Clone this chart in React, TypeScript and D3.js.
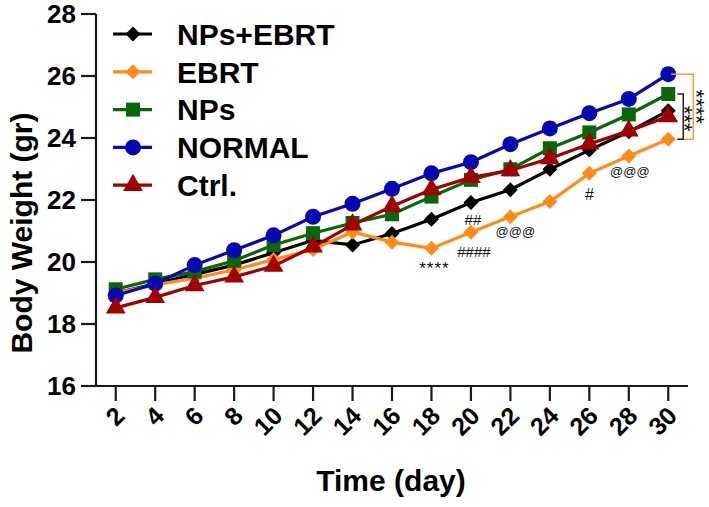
import React from "react";
import * as d3 from "d3";

const days = [2, 4, 6, 8, 10, 12, 14, 16, 18, 20, 22, 24, 26, 28, 30];
const npsEbrt = [19.0, 19.3, 19.6, 19.9, 20.3, 20.7, 20.55, 20.92, 21.38, 21.92, 22.33, 22.99, 23.61, 24.2, 24.88];
const ebrt = [19.0, 19.26, 19.48, 19.74, 20.08, 20.4, 20.97, 20.64, 20.44, 20.96, 21.46, 21.95, 22.86, 23.42, 23.96];
const nps = [19.12, 19.44, 19.69, 20.04, 20.55, 20.93, 21.26, 21.54, 22.11, 22.65, 22.99, 23.67, 24.18, 24.76, 25.42];
const normal = [18.92, 19.3, 19.9, 20.38, 20.86, 21.46, 21.88, 22.36, 22.86, 23.22, 23.8, 24.31, 24.8, 25.26, 26.06];
const ctrl = [18.52, 18.86, 19.24, 19.52, 19.87, 20.49, 21.2, 21.8, 22.34, 22.73, 22.95, 23.34, 23.81, 24.23, 24.69];
const yTicks = [16, 18, 20, 22, 24, 26, 28];

const seriesNames = ["NPs+EBRT", "EBRT", "NPs", "NORMAL", "Ctrl."];
const seriesValues = [npsEbrt, ebrt, nps, normal, ctrl];
const seriesColors = ["#000000", "#ff8c1a", "#0a660a", "#0808b0", "#a00000"];
const seriesShapes = ["diamond", "diamond", "square", "circle", "triangle"];

// annotations: [day, value, text]
const annoDays = [18, 20, 20, 22, 26, 28];
const annoValues = [20.44, 20.96, 21.92, 21.46, 22.86, 23.42];
const annoTexts = ["****", "####", "##", "@@@", "#", "@@@"];

const FONT = "'Liberation Sans', Arial, Helvetica, sans-serif";

function Marker({ shape, x, y, color }: { shape: string; x: number; y: number; color: string }) {
  if (shape === "circle") return <circle cx={x} cy={y} r={8} fill={color} />;
  if (shape === "square") return <rect x={x - 7} y={y - 7} width={14} height={14} fill={color} />;
  if (shape === "triangle") {
    const p = d3.symbol(d3.symbolTriangle, 170)();
    return <path d={p as string} transform={`translate(${x},${y})`} fill={color} />;
  }
  const s = 7.5;
  return <path d={`M${x},${y - s}L${x + s},${y}L${x},${y + s}L${x - s},${y}Z`} fill={color} />;
}

export default function App() {
  const W = 709, H = 507;
  const x = d3.scaleLinear().domain([1, 31]).range([96, 688]);
  const y = d3.scaleLinear().domain([16, 28]).range([386, 14]);
  const line = d3.line<number>().x((_, i) => x(days[i])).y((v) => y(v));
  const axisColor = "#1a1a1a";

  const last = days.length - 1;
  const xe = x(days[last]);

  return (
    <svg width={W} height={H} style={{ position: "absolute", left: 0, top: 0, background: "#fff" }} fontFamily={FONT}>
      {/* axes */}
      <line x1={96} x2={96} y1={y(28)} y2={y(16) + 1} stroke={axisColor} strokeWidth={2.2} />
      <line x1={95} x2={688} y1={y(16)} y2={y(16)} stroke={axisColor} strokeWidth={2.2} />
      {yTicks.map((t) => (
        <g key={"y" + t}>
          <line x1={81} x2={96} y1={y(t)} y2={y(t)} stroke={axisColor} strokeWidth={2.2} />
          <text x={76} y={y(t)} dy="0.36em" textAnchor="end" fontSize={26} fontWeight="bold" fill="#000">
            {t}
          </text>
        </g>
      ))}
      {days.map((d) => (
        <g key={"x" + d}>
          <line x1={x(d)} x2={x(d)} y1={y(16)} y2={y(16) + 15} stroke={axisColor} strokeWidth={2.2} />
          <text
            transform={`translate(${x(d) + 4},${y(16) + 25}) rotate(-45)`}
            dy="0.36em"
            textAnchor="end"
            fontSize={25}
            fontWeight="bold"
            fill="#000"
          >
            {d}
          </text>
        </g>
      ))}
      <text
        transform={`translate(32,${(y(16) + y(28)) / 2 + 33}) rotate(-90)`}
        textAnchor="middle"
        fontSize={30}
        fontWeight="bold"
        fill="#000"
      >
        Body Weight (gr)
      </text>
      <text x={391} y={491} textAnchor="middle" fontSize={30} fontWeight="bold" fill="#000">
        Time (day)
      </text>

      {/* series */}
      {seriesValues.map((vals, si) => (
        <g key={"s" + si}>
          <path d={line(vals) as string} fill="none" stroke={seriesColors[si]} strokeWidth={3.2} />
          {vals.map((v, i) => (
            <Marker key={i} shape={seriesShapes[si]} x={x(days[i])} y={y(v)} color={seriesColors[si]} />
          ))}
        </g>
      ))}

      {/* legend */}
      {seriesNames.map((n, i) => {
        const ly = 34 + i * 37.8;
        return (
          <g key={"l" + i}>
            <line x1={113} x2={152} y1={ly} y2={ly} stroke={seriesColors[i]} strokeWidth={3.2} />
            <Marker shape={seriesShapes[i]} x={133} y={ly} color={seriesColors[i]} />
            <text x={177} y={ly} dy="0.36em" fontSize={30} fontWeight="bold" fill="#000">
              {n}
            </text>
          </g>
        );
      })}

      {/* annotations */}
      <text x={x(annoDays[0]) + 3} y={y(annoValues[0]) + 26} textAnchor="middle" fontSize={17} letterSpacing={1} fill="#111">
        {annoTexts[0]}
      </text>
      <text x={x(annoDays[1]) + 3} y={y(annoValues[1]) + 25} textAnchor="middle" fontSize={15} fill="#111">
        {annoTexts[1]}
      </text>
      <text x={x(annoDays[2]) + 2} y={y(annoValues[2]) + 23} textAnchor="middle" fontSize={15} fill="#111">
        {annoTexts[2]}
      </text>
      <text x={x(annoDays[3]) + 5} y={y(annoValues[3]) + 19} textAnchor="middle" fontSize={13} fill="#111">
        {annoTexts[3]}
      </text>
      <text x={x(annoDays[4])} y={y(annoValues[4]) + 27} textAnchor="middle" fontSize={16} fill="#111">
        {annoTexts[4]}
      </text>
      <text x={x(annoDays[5]) + 1} y={y(annoValues[5]) + 20} textAnchor="middle" fontSize={13} fill="#111">
        {annoTexts[5]}
      </text>

      {/* significance brackets */}
      <path
        d={`M${xe + 3},${y(normal[last])}H${xe + 25}V${y(ebrt[last])}H${xe + 10}`}
        fill="none"
        stroke="#ff9a40"
        strokeWidth={1.5}
      />
      <path
        d={`M${xe + 9},${y(nps[last])}H${xe + 15}V${y(ebrt[last])}H${xe + 9}`}
        fill="none"
        stroke="#222"
        strokeWidth={1.5}
      />
      <text
        transform={`translate(${xe + 21},${(y(normal[last]) + y(ebrt[last])) / 2}) rotate(90)`}
        textAnchor="middle"
        fontSize={22}
        fill="#111"
      >
        ****
      </text>
      <text
        transform={`translate(${xe + 9},${(y(nps[last]) + y(ebrt[last])) / 2 + 2}) rotate(90)`}
        textAnchor="middle"
        fontSize={22}
        fill="#111"
      >
        ***
      </text>
    </svg>
  );
}
